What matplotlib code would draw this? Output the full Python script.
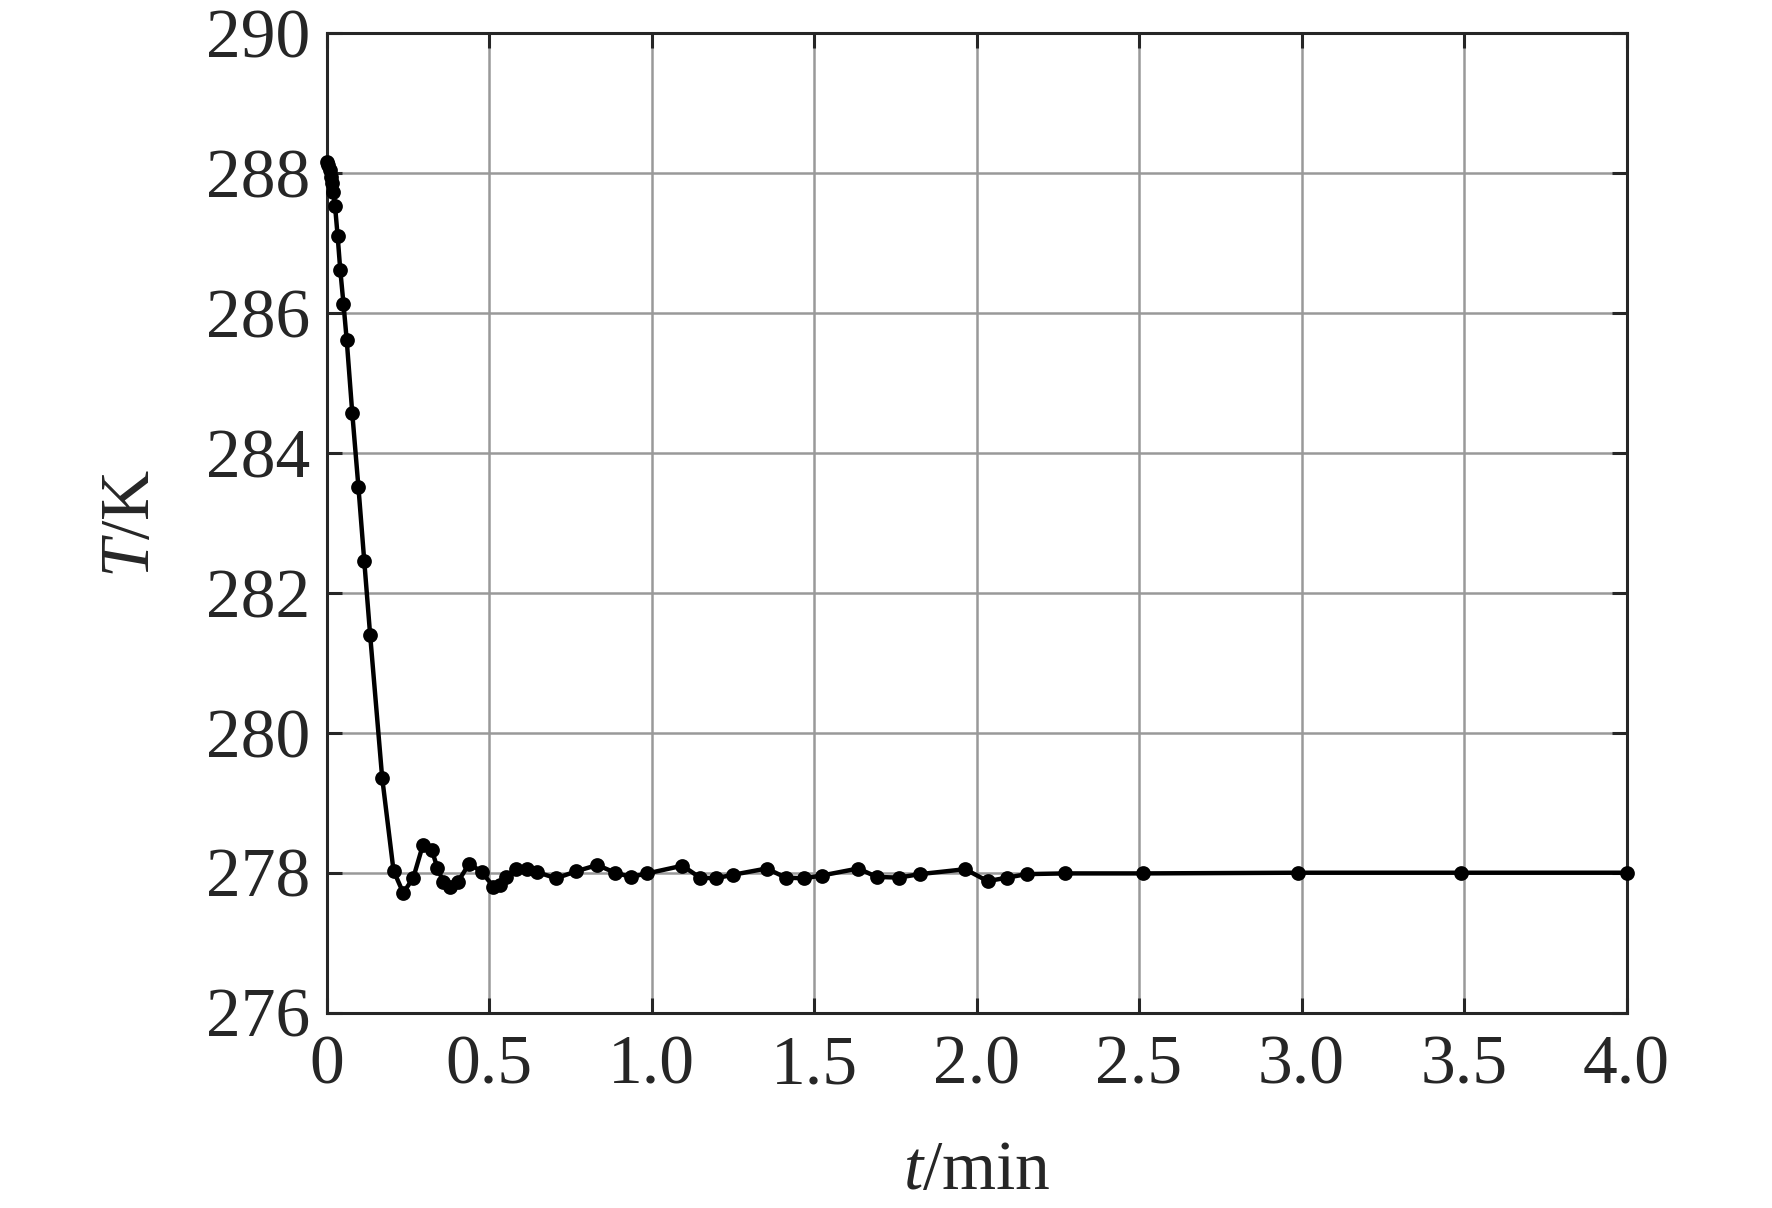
import matplotlib
matplotlib.use("Agg")
import matplotlib.pyplot as plt

# temperature vs time
t_min = [0.000, 0.004, 0.010, 0.014, 0.018, 0.021,
         0.026, 0.034, 0.042, 0.052, 0.062, 0.079, 0.098, 0.116, 0.134,
         0.171, 0.206, 0.236, 0.267, 0.296, 0.324, 0.341, 0.359, 0.380, 0.404,
         0.439, 0.478, 0.513, 0.534, 0.551, 0.583, 0.616, 0.647, 0.706, 0.768,
         0.833, 0.888, 0.936, 0.987, 1.095, 1.149, 1.197, 1.250, 1.354, 1.413,
         1.469, 1.524, 1.636, 1.693, 1.760, 1.826, 1.965, 2.034, 2.095, 2.154,
         2.272, 2.511, 2.990, 3.490, 4.000]
T_K = [288.15, 288.12, 288.04, 287.94, 287.85, 287.73,
       287.53, 287.10, 286.62, 286.13, 285.61, 284.57, 283.51, 282.45, 281.40,
       279.36, 278.03, 277.71, 277.93, 278.39, 278.32, 278.07, 277.87, 277.80, 277.87,
       278.13, 278.01, 277.80, 277.82, 277.94, 278.06, 278.06, 278.01, 277.92, 278.02,
       278.11, 278.00, 277.94, 277.99, 278.10, 277.93, 277.92, 277.97, 278.06, 277.93,
       277.92, 277.96, 278.06, 277.94, 277.93, 277.98, 278.05, 277.88, 277.93, 277.98,
       277.99, 277.99, 278.00, 278.00, 278.00]

x_ticks = [0, 0.5, 1.0, 1.5, 2.0, 2.5, 3.0, 3.5, 4.0]
x_labels = ["0", "0.5", "1.0", "1.5", "2.0", "2.5", "3.0", "3.5", "4.0"]
y_ticks = [276, 278, 280, 282, 284, 286, 288, 290]

plt.rcParams["font.family"] = "Liberation Serif"
plt.rcParams["mathtext.fontset"] = "custom"
plt.rcParams["mathtext.rm"] = "Liberation Serif"
plt.rcParams["mathtext.it"] = "Liberation Serif:italic"

dark = "#262626"
fig = plt.figure(figsize=(8.86, 6.04), dpi=200)
ax = fig.add_axes([0.1843, 0.1617, 0.7336, 0.811])

ax.plot(t_min, T_K, color="black", lw=1.6, marker="o", ms=4.3, clip_on=False, zorder=3)

ax.set_xlim(0, 4.0)
ax.set_ylim(276, 290)
ax.set_xticks(x_ticks)
ax.set_xticklabels(x_labels)
ax.set_yticks(y_ticks)

ax.grid(True, color="#999999", lw=0.9)
ax.set_axisbelow(True)
for s in ax.spines.values():
    s.set_color(dark)
    s.set_linewidth(1.1)
ax.tick_params(direction="in", length=5.5, width=1.1, color=dark, labelcolor=dark,
               labelsize=25, top=True, right=True)
ax.tick_params(axis="x", pad=8)
ax.tick_params(axis="y", pad=6)

ax.set_xlabel(r"$t$/min", fontsize=25, color=dark, labelpad=15)
ax.set_ylabel(r"$T$/K", fontsize=25, color=dark, labelpad=15)

fig.savefig("out.png", dpi=200)
